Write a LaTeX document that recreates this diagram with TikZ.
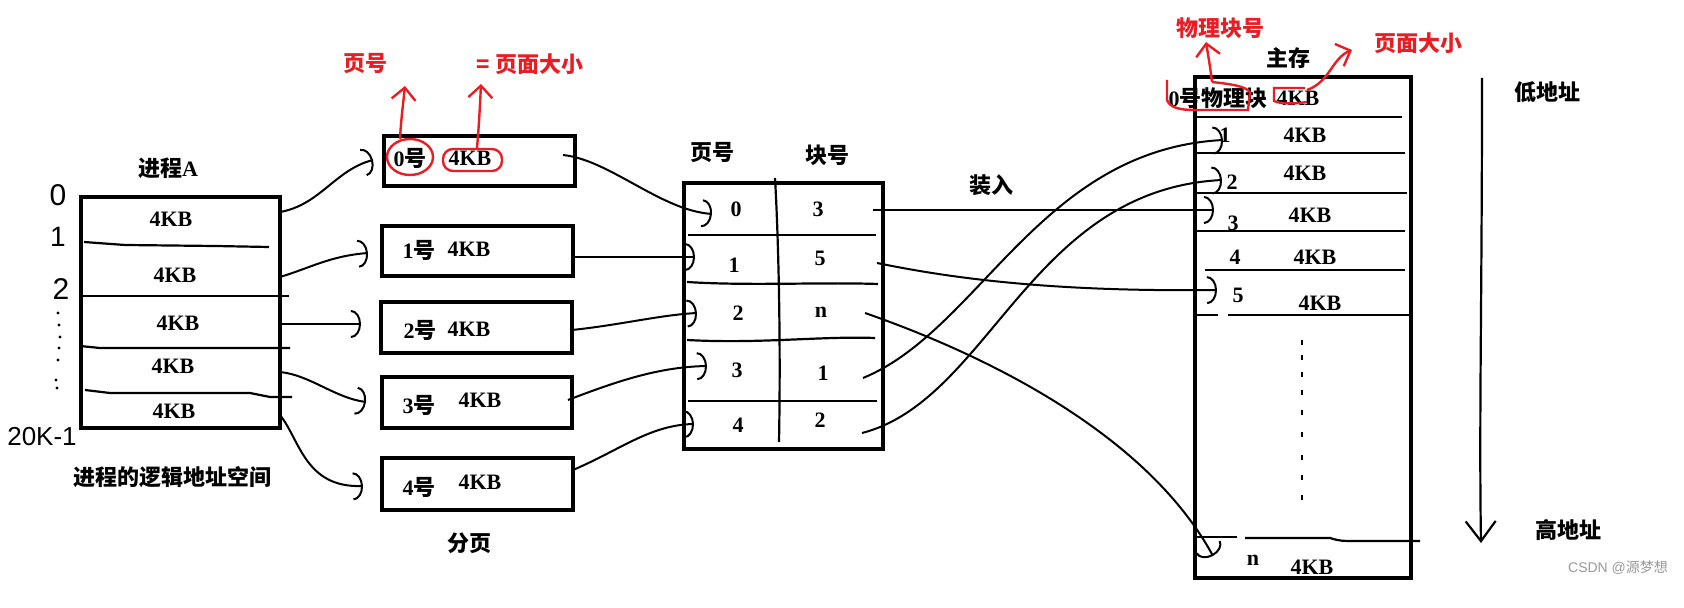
\documentclass[tikz,border=0pt]{standalone}
\usepackage{fontspec}
\setmainfont{Liberation Serif}
\newfontfamily\cjk{Noto Sans CJK SC}
\newfontfamily\hand{Liberation Sans}
\usetikzlibrary{arrows.meta,fit}
\definecolor{annot}{RGB}{232,30,36}
\newcommand{\zh}[1]{{\cjk\bfseries #1}}
\begin{document}
\begin{tikzpicture}[x=0.5pt,y=-0.5pt,
  txt/.style={font=\fontsize{11}{13}\selectfont\bfseries, inner sep=0pt},
  handtxt/.style={font=\fontsize{14}{16}\selectfont\hand, inner sep=0pt},
  bigbox/.style={draw, line width=2.2pt, inner sep=0pt},
  rowline/.style={line width=1.1pt},
  conn/.style={line width=1pt, -{Arc Barb[length=5pt,width=14pt,line width=1pt]}},
  redln/.style={draw=annot, line width=1.2pt},
  redarrow/.style={draw=annot, line width=1.2pt, -{Straight Barb[length=6pt,width=12pt,line width=1.2pt]}},
  redtxt/.style={text=annot, font=\fontsize{11}{13}\selectfont\cjk\bfseries, inner sep=0pt},
]
\fill[white] (0,0) rectangle (1684,608);
\useasboundingbox (0,0) rectangle (1684,608);

% ---------------- Process A ----------------
\node[bigbox, fit={(81,197)(280,428)}] (PA) {};
\node[txt] (PAt) at (168,168) {\zh{进程}A};
\draw[rowline] (84,242) -- (125,245) -- (215,246) -- (269,247);
\draw[rowline] (81,296) -- (289,296);
\draw[rowline] (80,346) -- (100,348) -- (290,348);
\draw[rowline] (85,390) -- (110,393) -- (250,393) -- (270,397) -- (292,397);
\node[txt] (pa0) at (171,219) {4KB};
\node[txt] (pa1) at (175,275) {4KB};
\node[txt] (pa2) at (178,323) {4KB};
\node[txt] (pa3) at (173,366) {4KB};
\node[txt] (pa4) at (174,411) {4KB};
\node[txt] (PAcap) at (172,477) {\zh{进程的逻辑地址空间}};
\node[handtxt, font=\fontsize{15}{17}\selectfont\hand] (h0) at (58,195) {0};
\node[handtxt] (h1) at (58,237) {1};
\node[handtxt, font=\fontsize{15}{17}\selectfont\hand] (h2) at (61,289) {2};
\node[handtxt, font=\fontsize{13}{15}\selectfont\hand] (h3) at (42,437) {20K-1};
\foreach \yy/\xx in {313/58,325/59,337/60,348/59,360/58,380/56,388/57}
  \fill (\xx,\yy) circle (1.6);

% ---------------- Pages ----------------
\node[bigbox, fit={(384,136)(575,186)}] (P0) {};
\node[bigbox, fit={(382,226)(573,276)}] (P1) {};
\node[bigbox, fit={(381,302)(572,353)}] (P2) {};
\node[bigbox, fit={(382,377)(572,428)}] (P3) {};
\node[bigbox, fit={(382,458)(573,510)}] (P4) {};
\node[txt] (p0a) at (410,158) {0\zh{号}};
\node[txt] (p0b) at (470,158) {4KB};
\node[txt] (p1a) at (419,250) {1\zh{号}};
\node[txt] (p1b) at (469,249) {4KB};
\node[txt] (p2a) at (420,330) {2\zh{号}};
\node[txt] (p2b) at (469,329) {4KB};
\node[txt] (p3a) at (419,405) {3\zh{号}};
\node[txt] (p3b) at (480,400) {4KB};
\node[txt] (p4a) at (419,487) {4\zh{号}};
\node[txt] (p4b) at (480,482) {4KB};
\node[txt] (fy) at (469,543) {\zh{分页}};

% red annotations on pages
\draw[redln] (410,157) ellipse (23 and 18);
\draw[redln, rounded corners=5pt] (443,149) rectangle (502,171);
\draw[redarrow] (400,139) .. controls (401,120) and (403,105) .. (405,86);
\draw[redarrow] (477,148) .. controls (479,125) and (480,105) .. (481,84);
\node[redtxt] (rl1) at (365,64) {页号};
\node[redtxt] (rl2) at (530,64) {= 页面大小};

% ---------------- Page table ----------------
\node[bigbox, fit={(684,183)(883,449)}] (PT) {};
\draw[rowline] (775,178) .. controls (778,230) and (781,330) .. (779,442);
\draw[rowline] (688,235) -- (876,235);
\draw[rowline] (687,282) .. controls (750,286) and (820,282) .. (878,284);
\draw[rowline] (687,340) .. controls (760,344) and (820,336) .. (875,338);
\draw[rowline] (688,401) -- (877,401);
\node[txt] (ph1) at (712,153) {\zh{页号}};
\node[txt] (ph2) at (827,155) {\zh{块号}};
\node[txt] (l0) at (736,209) {0};
\node[txt] (l1) at (734,265) {1};
\node[txt] (l2) at (738,313) {2};
\node[txt] (l3) at (737,370) {3};
\node[txt] (l4) at (738,425) {4};
\node[txt] (r0) at (818,209) {3};
\node[txt] (r1) at (820,258) {5};
\node[txt] (r2) at (821,312) {n};
\node[txt] (r3) at (823,373) {1};
\node[txt] (r4) at (820,420) {2};
\node[txt] (zr) at (991,185) {\zh{装入}};

% ---------------- Main memory ----------------
\node[bigbox, fit={(1195,77)(1411,578)}] (MM) {};
\node[txt] (mmt) at (1288,58) {\zh{主存}};
\draw[rowline] (1197,117) -- (1402,117);
\draw[rowline] (1197,153) -- (1405,153);
\draw[rowline] (1197,193) -- (1407,193);
\draw[rowline] (1197,231) -- (1405,231);
\draw[rowline] (1205,270) -- (1405,270);
\draw[rowline] (1197,315) -- (1218,315);
\draw[rowline] (1228,315) -- (1411,315);
\draw[rowline] (1195,537) -- (1237,537);
\draw[rowline] (1245,538) -- (1330,538) .. controls (1340,541) .. (1360,541) -- (1420,541);
\node[txt] (m0a) at (1218,98) {0\zh{号物理块}};
\node[txt] (m0b) at (1298,98) {4KB};
\node[txt] (m1a) at (1225,135) {1};
\node[txt] (m1b) at (1305,135) {4KB};
\node[txt] (m2a) at (1232,182) {2};
\node[txt] (m2b) at (1305,173) {4KB};
\node[txt] (m3a) at (1233,223) {3};
\node[txt] (m3b) at (1310,215) {4KB};
\node[txt] (m4a) at (1235,257) {4};
\node[txt] (m4b) at (1315,257) {4KB};
\node[txt] (m5a) at (1238,295) {5};
\node[txt] (m5b) at (1320,303) {4KB};
\node[txt] (mna) at (1253,560) {n};
\node[txt] (mnb) at (1312,567) {4KB};
\foreach \yy in {340,355,372,390,410,432,455,475,495}
  \draw[line width=1.4pt] (1302,\yy) -- (1302,\yy+5);

% red annotations on memory
\draw[redln] (1167,80) -- (1167,100) .. controls (1170,108) and (1180,110) .. (1195,110) -- (1248,110) -- (1250,92) .. controls (1245,86) and (1230,84) .. (1212,82);
\draw[redarrow] (1212,82) .. controls (1210,65) and (1208,55) .. (1206,42);
\draw[redln] (1305,88) -- (1274,88) -- (1274,101) .. controls (1280,104) and (1295,104) .. (1307,102);
\draw[redarrow] (1307,90) .. controls (1330,82) and (1332,58) .. (1352,50);
\node[redtxt] (rm1) at (1220,28) {物理块号};
\node[redtxt] (rm2) at (1418,43) {页面大小};

% address arrow
\coordinate (lo) at (1482,78);
\coordinate (hi) at (1481,543);
\draw[line width=1.1pt, -{Straight Barb[length=10pt,width=15pt,line width=1.1pt]}] (lo) .. controls (1482,300) and (1479,420) .. (hi);
\node[txt] (low) at (1547,92) {\zh{低地址}};
\node[txt] (high) at (1568,530) {\zh{高地址}};
\node[text=black!40, font=\fontsize{7}{8}\selectfont\hand, inner sep=0pt] (wm) at (1618,568) {CSDN @\cjk 源梦想};

% ---------------- connectors ----------------
\coordinate (a0) at (280,212);
\coordinate (a1) at (280,277);
\coordinate (a2) at (280,324);
\coordinate (a3) at (280,372);
\coordinate (a4) at (280,415);
\coordinate (b0) at (373,160);
\coordinate (b1) at (368,253);
\coordinate (b2) at (361,324);
\coordinate (b3) at (366,402);
\coordinate (b4) at (363,486);
\draw[conn] (a0) .. controls (320,205) and (335,170) .. (b0);
\draw[conn] (a1) .. controls (310,268) and (330,256) .. (b1);
\draw[conn] (a2) -- (b2);
\draw[conn] (a3) .. controls (310,375) and (335,398) .. (b3);
\draw[conn] (a4) .. controls (300,440) and (305,488) .. (b4);

\coordinate (c0) at (563,155);
\coordinate (c1) at (575,257);
\coordinate (c2) at (572,330);
\coordinate (c3) at (568,400);
\coordinate (c4) at (573,470);
\coordinate (d0) at (712,214);
\coordinate (d1) at (695,257);
\coordinate (d2) at (697,313);
\coordinate (d3) at (707,366);
\coordinate (d4) at (694,424);
\draw[conn] (c0) .. controls (610,160) and (660,210) .. (d0);
\draw[conn] (c1) -- (d1);
\draw[conn] (c2) .. controls (620,325) and (660,315) .. (d2);
\draw[conn] (c3) .. controls (620,380) and (660,367) .. (d3);
\draw[conn] (c4) .. controls (620,450) and (650,425) .. (d4);

\coordinate (e0) at (873,210);
\coordinate (e1) at (877,263);
\coordinate (e2) at (865,313);
\coordinate (e3) at (863,378);
\coordinate (e4) at (862,433);
\coordinate (f0) at (1214,210);
\coordinate (f1) at (1217,290);
\coordinate (f2) at (1213,556);
\coordinate (f3) at (1223,140);
\coordinate (f4) at (1222,180);
\draw[conn] (e0) -- (f0);
\draw[conn] (e1) .. controls (950,278) and (1050,292) .. (f1);
\draw[conn] (e2) .. controls (1000,360) and (1150,440) .. (f2);
\draw[conn] (e3) .. controls (980,330) and (1040,150) .. (f3);
\draw[conn] (e4) .. controls (990,400) and (1030,190) .. (f4);
\end{tikzpicture}
\end{document}
